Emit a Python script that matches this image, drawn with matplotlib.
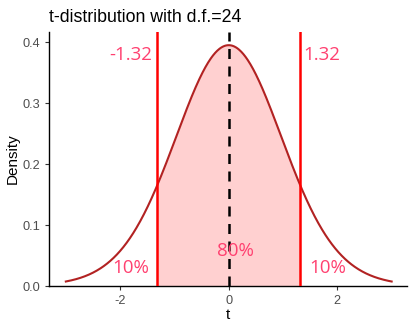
import math
import numpy as np
import matplotlib
matplotlib.use("Agg")
import matplotlib.pyplot as plt

# Student t parameters and the central-interval cutoff
dof = 24
cutoff = 1.32
t_range = [-3, 3]
x_ticks = [-2, 0, 2]
y_ticks = [0.0, 0.1, 0.2, 0.3, 0.4]
tail_labels = ["10%", "10%"]
center_label = "80%"


def t_pdf(x, nu):
    c = math.gamma((nu + 1) / 2) / (math.sqrt(nu * math.pi) * math.gamma(nu / 2))
    return c * (1 + x ** 2 / nu) ** (-(nu + 1) / 2)


x = np.linspace(t_range[0], t_range[1], 601)
y = t_pdf(x, dof)

fig = plt.figure(figsize=(4.16, 3.22), dpi=100)
ax = fig.add_axes([0.1178, 0.1118, 0.8602, 0.7888])

mask = (x >= -cutoff) & (x <= cutoff)
ax.fill_between(x[mask], 0, y[mask], color="#FFD0D0", lw=0, zorder=1)
ax.plot(x, y, color="#B22222", lw=1.5, zorder=3)
ax.axvline(-cutoff, color="#FF0000", lw=1.8, zorder=4)
ax.axvline(cutoff, color="#FF0000", lw=1.8, zorder=4)
ax.axvline(0, color="black", lw=1.8, ls=(0, (4, 3)), zorder=4)

lab_col = "#FF4070"
fam = ["Open Sans", "DejaVu Sans"]
fs = 13.5
ax.text(-cutoff - 0.1, 0.379, f"-{cutoff:.2f}", ha="right", va="center",
        color=lab_col, fontsize=fs, family=fam, zorder=5)
ax.text(cutoff + 0.05, 0.379, f"{cutoff:.2f}", ha="left", va="center",
        color=lab_col, fontsize=fs, family=fam, zorder=5)
ax.text(-1.8, 0.0295, tail_labels[0], ha="center", va="center",
        color=lab_col, fontsize=fs, family=fam, zorder=5)
ax.text(1.82, 0.0295, tail_labels[1], ha="center", va="center",
        color=lab_col, fontsize=fs, family=fam, zorder=5)
ax.text(0.13, 0.057, center_label, ha="center", va="center",
        color=lab_col, fontsize=fs, family=fam, zorder=5)

ax.set_xlim(-3.31, 3.28)
ax.set_ylim(0, 0.4164)
ax.set_xticks(x_ticks)
ax.set_xticklabels([str(v) for v in x_ticks])
ax.set_yticks(y_ticks)
ax.set_yticklabels([f"{v:.1f}" for v in y_ticks])

for s in ["top", "right"]:
    ax.spines[s].set_visible(False)
for s in ["left", "bottom"]:
    ax.spines[s].set_color("black")
    ax.spines[s].set_linewidth(1.0)
ax.tick_params(axis="both", colors="#333333", labelcolor="#4D4D4D",
               labelsize=9.2, length=3, width=0.8, direction="out")
for lab in ax.get_xticklabels() + ax.get_yticklabels():
    lab.set_family("Liberation Sans")

ax.set_xlabel("t", fontsize=11, family="Liberation Sans", labelpad=1)
ax.set_ylabel("Density", fontsize=11, family="Liberation Sans", labelpad=1.5)
ax.set_title("t-distribution with d.f.=24", loc="left", fontsize=12.8,
             family="Liberation Sans", pad=7)

fig.savefig("out.png", dpi=100)
